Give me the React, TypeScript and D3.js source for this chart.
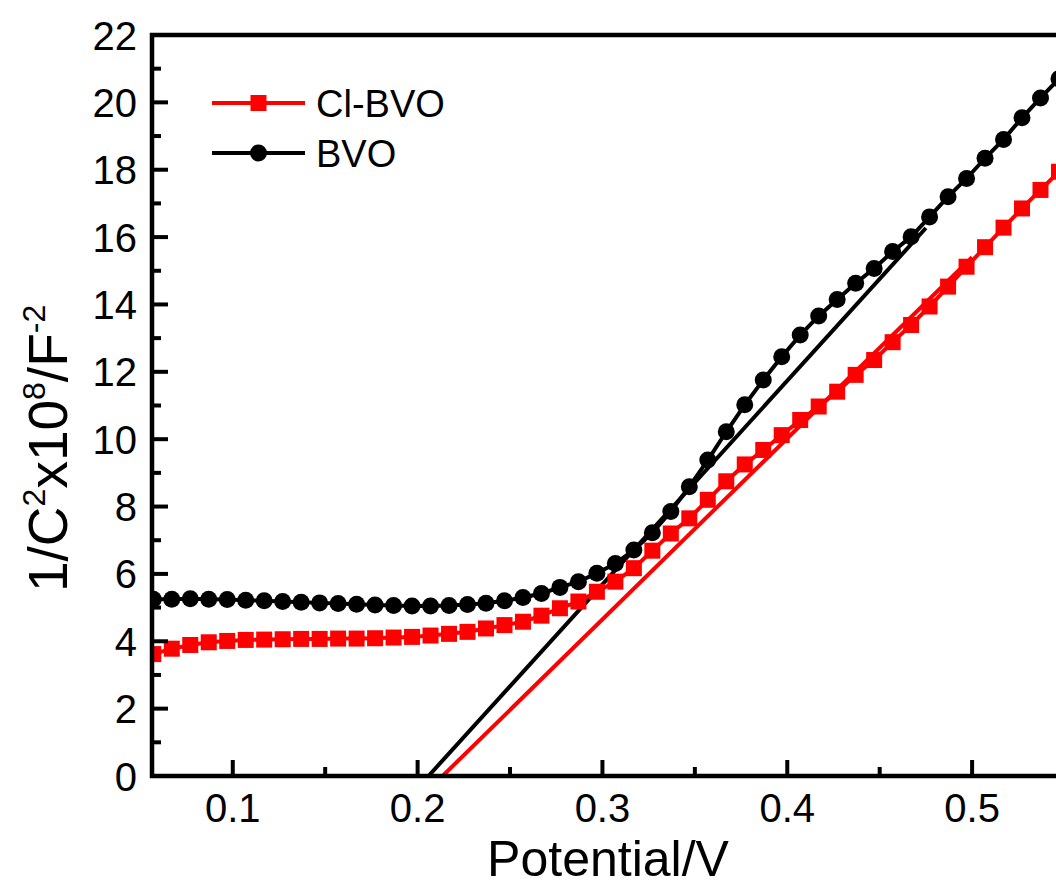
import React from "react";
import * as d3 from "d3";

const potential = [
  0.057, 0.067, 0.077, 0.087, 0.097, 0.107, 0.117, 0.127, 0.137, 0.147,
  0.157, 0.167, 0.177, 0.187, 0.197, 0.207, 0.217, 0.227, 0.237, 0.247,
  0.257, 0.267, 0.277, 0.287, 0.297, 0.307, 0.317, 0.327, 0.337, 0.347,
  0.357, 0.367, 0.377, 0.387, 0.397, 0.407, 0.417, 0.427, 0.437, 0.447,
  0.457, 0.467, 0.477, 0.487, 0.497, 0.507, 0.517, 0.527, 0.537, 0.547,
];

const clBVO = [
  3.62, 3.78, 3.89, 3.97, 4.01, 4.04, 4.05, 4.06, 4.07, 4.07,
  4.08, 4.08, 4.09, 4.11, 4.13, 4.17, 4.22, 4.28, 4.38, 4.48,
  4.58, 4.76, 4.98, 5.18, 5.47, 5.77, 6.17, 6.69, 7.2, 7.65,
  8.2, 8.75, 9.25, 9.68, 10.12, 10.57, 10.97, 11.41, 11.91, 12.35,
  12.88, 13.39, 13.94, 14.53, 15.12, 15.7, 16.28, 16.85, 17.4, 17.94,
];

const BVO = [
  5.25, 5.25, 5.26, 5.25, 5.24, 5.22, 5.2, 5.18, 5.16, 5.14,
  5.12, 5.1, 5.08, 5.06, 5.05, 5.05, 5.06, 5.09, 5.13, 5.2,
  5.3, 5.42, 5.6, 5.77, 6.02, 6.31, 6.71, 7.22, 7.85, 8.59,
  9.38, 10.22, 11.02, 11.76, 12.45, 13.09, 13.66, 14.15, 14.63, 15.07,
  15.57, 16.01, 16.6, 17.2, 17.74, 18.34, 18.9, 19.54, 20.13, 20.7,
];

// Linear fits (Mott–Schottky extrapolation): [x, y] end points
const fitClBVO: [number, number][] = [[0.2135, 0], [0.5, 15.4]];
const fitBVO: [number, number][] = [[0.2059, 0], [0.475, 16.27]];

const xMajor = [0.1, 0.2, 0.3, 0.4, 0.5];
const xMinor = [0.15, 0.25, 0.35, 0.45, 0.55];
const yMajor = [0, 2, 4, 6, 8, 10, 12, 14, 16, 18, 20, 22];
const yMinor = [1, 3, 5, 7, 9, 11, 13, 15, 17, 19, 21];

const W = 1056;
const H = 886;
const left = 152;
const right = 1083;
const top = 35;
const bottom = 776;

const font = "'Liberation Sans', Arial, Helvetica, sans-serif";
const RED = "#ff0000";

export default function App() {
  const x = d3.scaleLinear().domain([0.0563, 0.56]).range([left, right]);
  const y = d3.scaleLinear().domain([0, 22]).range([bottom, top]);

  const line = d3
    .line<[number, number]>()
    .x((d) => x(d[0]))
    .y((d) => y(d[1]));

  const redPts: [number, number][] = potential.map((p, i) => [p, clBVO[i]]);
  const blkPts: [number, number][] = potential.map((p, i) => [p, BVO[i]]);

  const sq = 16;
  const r = 8.5;

  return (
    <svg
      width={W}
      height={H}
      style={{ position: "absolute", left: 0, top: 0, background: "#fff" }}
      fontFamily={font}
    >
      <defs>
        <clipPath id="plot">
          <rect x={left} y={top} width={right - left} height={bottom - top} />
        </clipPath>
      </defs>
      <rect x={0} y={0} width={W} height={H} fill="#fff" />

      <g clipPath="url(#plot)">
        {/* fit lines */}
        <path d={line(fitClBVO) || ""} stroke={RED} strokeWidth={4} fill="none" />
        <path d={line(fitBVO) || ""} stroke="#000" strokeWidth={4} fill="none" />

        {/* Cl-BVO */}
        <path d={line(redPts) || ""} stroke={RED} strokeWidth={4} fill="none" />
        {redPts.map((d, i) => (
          <rect
            key={"r" + i}
            x={x(d[0]) - sq / 2}
            y={y(d[1]) - sq / 2}
            width={sq}
            height={sq}
            fill={RED}
          />
        ))}

        {/* BVO */}
        <path d={line(blkPts) || ""} stroke="#000" strokeWidth={4} fill="none" />
        {blkPts.map((d, i) => (
          <circle key={"b" + i} cx={x(d[0])} cy={y(d[1])} r={r} fill="#000" />
        ))}
      </g>

      {/* frame */}
      <path
        d={`M${right},${top}H${left}V${bottom}H${right}`}
        stroke="#000"
        strokeWidth={4.5}
        fill="none"
        strokeLinecap="square"
      />

      {/* y ticks */}
      {yMajor.map((v) => (
        <g key={"ym" + v}>
          <line x1={left} x2={left + 16} y1={y(v)} y2={y(v)} stroke="#000" strokeWidth={4} />
          <text x={137} y={y(v) + 14.5} fontSize={40} textAnchor="end" fill="#000">
            {v}
          </text>
        </g>
      ))}
      {yMinor.map((v) => (
        <line key={"yn" + v} x1={left} x2={left + 9} y1={y(v)} y2={y(v)} stroke="#000" strokeWidth={4} />
      ))}

      {/* x ticks */}
      {xMajor.map((v) => (
        <g key={"xm" + v}>
          <line x1={x(v)} x2={x(v)} y1={bottom} y2={bottom - 16} stroke="#000" strokeWidth={4} />
          <text x={x(v)} y={822} fontSize={40} textAnchor="middle" fill="#000">
            {d3.format(".1f")(v)}
          </text>
        </g>
      ))}
      {xMinor.map((v) => (
        <line key={"xn" + v} x1={x(v)} x2={x(v)} y1={bottom} y2={bottom - 9} stroke="#000" strokeWidth={4} />
      ))}

      {/* axis titles */}
      <text x={608} y={875.5} fontSize={50} textAnchor="middle" fill="#000">
        Potential/V
      </text>
      <text
        transform="translate(67,592) rotate(-90)"
        fontSize={55}
        textAnchor="start"
        fill="#000"
      >
        1/C
        <tspan fontSize={32} dy={-22}>2</tspan>
        <tspan dy={22}>x10</tspan>
        <tspan fontSize={32} dy={-22}>8</tspan>
        <tspan dy={22}>/F</tspan>
        <tspan fontSize={32} dy={-22}>-2</tspan>
      </text>

      {/* legend */}
      <g>
        <line x1={212} x2={305} y1={103} y2={103} stroke={RED} strokeWidth={4} />
        <rect x={258.5 - sq / 2} y={103 - sq / 2} width={sq} height={sq} fill={RED} />
        <text x={316} y={117} fontSize={38} fill="#000">
          Cl-BVO
        </text>
        <line x1={212} x2={305} y1={153} y2={153} stroke="#000" strokeWidth={4} />
        <circle cx={258.5} cy={153} r={r} fill="#000" />
        <text x={316} y={167} fontSize={38} fill="#000">
          BVO
        </text>
      </g>
    </svg>
  );
}
